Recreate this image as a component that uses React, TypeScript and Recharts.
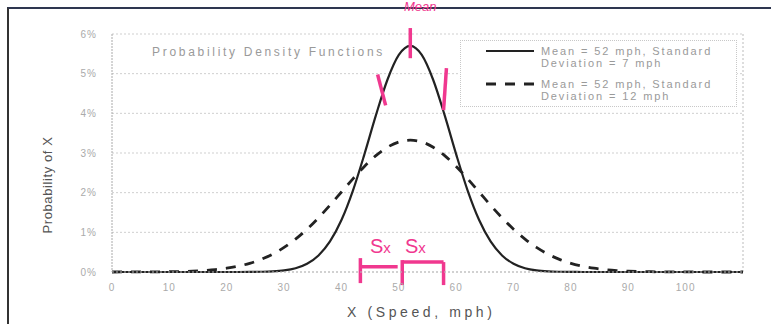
import React from 'react';
import { LineChart, Line, XAxis, YAxis, CartesianGrid, ReferenceLine, Legend } from 'recharts';

const speedMph = [0, 2, 4, 6, 8, 10, 12, 14, 16, 18, 20, 22, 24, 26, 28, 30, 32, 34, 36, 38, 40, 42, 44, 46, 48, 50, 52, 54, 56, 58, 60, 62, 64, 66, 68, 70, 72, 74, 76, 78, 80, 82, 84, 86, 88, 90, 92, 94, 96, 98, 100, 102, 104, 106, 108, 110];
const sd7Pct = [0, 0, 0, 0, 0, 0, 0, 0, 0, 0, 0, 0, 0.002, 0.006, 0.016, 0.041, 0.096, 0.209, 0.418, 0.771, 1.311, 2.054, 2.966, 3.947, 4.84, 5.471, 5.699, 5.471, 4.84, 3.947, 2.966, 2.054, 1.311, 0.771, 0.418, 0.209, 0.096, 0.041, 0.016, 0.006, 0.002, 0, 0, 0, 0, 0, 0, 0, 0, 0, 0, 0, 0, 0, 0, 0];
const sd12Pct = [0, 0.001, 0.001, 0.002, 0.004, 0.007, 0.013, 0.022, 0.037, 0.06, 0.095, 0.146, 0.218, 0.318, 0.45, 0.619, 0.829, 1.079, 1.367, 1.683, 2.016, 2.349, 2.662, 2.934, 3.145, 3.279, 3.324, 3.279, 3.145, 2.934, 2.662, 2.349, 2.016, 1.683, 1.367, 1.079, 0.829, 0.619, 0.45, 0.318, 0.218, 0.146, 0.095, 0.06, 0.037, 0.022, 0.013, 0.007, 0.004, 0.002, 0.001, 0.001, 0, 0, 0, 0];
const xTicks = [0, 10, 20, 30, 40, 50, 60, 70, 80, 90, 100];
const yTicks = [0, 1, 2, 3, 4, 5, 6];
const seriesNames = ['Mean = 52 mph, Standard Deviation = 7 mph', 'Mean = 52 mph, Standard Deviation = 12 mph'];
const chartTitle = 'Probability Density Functions';
const xTitle = 'X (Speed, mph)';
const yTitle = 'Probability of X';

const data = speedMph.map((x, i) => ({ x, sd7: sd7Pct[i], sd12: sd12Pct[i] }));

const FONT = '"Liberation Sans", Arial, sans-serif';
const PINK = '#f0388f';

const legendLines = [
  ['Mean = 52 mph, Standard', 'Deviation = 7 mph'],
  ['Mean = 52 mph, Standard', 'Deviation = 12 mph'],
];

const renderLegend = () => (
  <div style={{ position: 'relative', width: 277, height: 67, border: '1px dotted #c8c8c8', boxSizing: 'border-box', background: '#fff', fontFamily: FONT, fontSize: 11, color: '#9a9a9a', letterSpacing: 1.9, lineHeight: '12px' }}>
    <svg width={60} height={60} style={{ position: 'absolute', left: 20, top: 0 }}>
      <line x1={5} x2={53} y1={10} y2={10} stroke="#222" strokeWidth={2.2} />
      <line x1={5} x2={53} y1={43} y2={43} stroke="#222" strokeWidth={2.8} strokeDasharray="10 9" />
    </svg>
    <div style={{ position: 'absolute', left: 80, top: 4, whiteSpace: 'nowrap' }} title={seriesNames[0]}>
      {legendLines[0][0]}<br />{legendLines[0][1]}
    </div>
    <div style={{ position: 'absolute', left: 80, top: 37, whiteSpace: 'nowrap' }} title={seriesNames[1]}>
      {legendLines[1][0]}<br />{legendLines[1][1]}
    </div>
  </div>
);

const pinkSeg = (a: { x: number; y: number }, b: { x: number; y: number }, key: string) => (
  <ReferenceLine key={key} segment={[a, b]} stroke={PINK} strokeWidth={3.5} ifOverflow="visible" />
);

export default function App() {
  return (
    <div style={{ position: 'absolute', left: 0, top: 0, width: 771, height: 324, background: '#fff', overflow: 'hidden', fontFamily: FONT }}>
      <div style={{ position: 'absolute', left: 7, top: 7, width: 764, height: 317, borderTop: '2px solid #2e3650', borderLeft: '2px solid #333' }} />
      <LineChart width={771} height={324} data={data} margin={{ top: 34, right: 28, bottom: 22, left: 52 }} style={{ position: 'absolute', left: 0, top: 0 }}>
        <CartesianGrid vertical={false} stroke="#cfcfcf" strokeDasharray="2 2" />
        <XAxis dataKey="x" type="number" domain={[0, 110]} ticks={xTicks} height={30} tickSize={0} tickMargin={12}
          axisLine={{ stroke: '#bbb', strokeDasharray: '2 2' }} tick={{ fill: '#aaa', fontSize: 10, fontFamily: FONT, letterSpacing: 1 }} />
        <YAxis type="number" domain={[0, 6]} ticks={yTicks} width={60} tickSize={0} tickMargin={15}
          tickFormatter={(v: number) => `${v}%`} axisLine={{ stroke: '#aaa', strokeDasharray: '2 1' }}
          tick={{ fill: '#aaa', fontSize: 10, fontFamily: FONT, letterSpacing: 1 }} />
        <ReferenceLine x={110} stroke="#bbb" strokeDasharray="2 2" />
        <Legend layout="horizontal" verticalAlign="middle" align="center" content={renderLegend}
          wrapperStyle={{ position: 'absolute', left: 460, top: 40, width: 277, height: 67 }} />
        <Line type="monotone" dataKey="sd12" name={seriesNames[1]} stroke="#222" strokeWidth={2.8} strokeDasharray="10 9" dot={false} isAnimationActive={false} />
        <Line type="monotone" dataKey="sd7" name={seriesNames[0]} stroke="#222" strokeWidth={2.2} dot={false} isAnimationActive={false} />
        {pinkSeg({ x: 52, y: 6.15 }, { x: 52, y: 5.39 }, 'peak')}
        {pinkSeg({ x: 46.3, y: 4.98 }, { x: 47.7, y: 4.2 }, 'left')}
        {pinkSeg({ x: 58.3, y: 5.14 }, { x: 57.8, y: 4.08 }, 'right')}
        {pinkSeg({ x: 43.3, y: 0.35 }, { x: 43.3, y: -0.28 }, 'b1v')}
        {pinkSeg({ x: 43.3, y: 0.13 }, { x: 49.8, y: 0.13 }, 'b1h')}
        {pinkSeg({ x: 50.6, y: 0.3 }, { x: 50.6, y: -0.33 }, 'b2v1')}
        {pinkSeg({ x: 50.6, y: 0.25 }, { x: 57.8, y: 0.25 }, 'b2h')}
        {pinkSeg({ x: 57.8, y: 0.25 }, { x: 57.8, y: -0.33 }, 'b2v2')}
      </LineChart>
      <div style={{ position: 'absolute', left: 152, top: 45, fontSize: 12, color: '#9a9a9a', letterSpacing: 2.7, whiteSpace: 'nowrap' }}>{chartTitle}</div>
      <div style={{ position: 'absolute', left: 347, top: 304, fontSize: 14, color: '#555', letterSpacing: 3.6, whiteSpace: 'nowrap' }}>{xTitle}</div>
      <div style={{ position: 'absolute', left: 47, top: 185, transform: 'translate(-50%, -50%) rotate(-90deg)', fontSize: 13, color: '#555', letterSpacing: 0.6, whiteSpace: 'nowrap' }}>{yTitle}</div>
      <div style={{ position: 'absolute', left: 404, top: 0, fontSize: 13, lineHeight: '13px', color: PINK, fontStyle: 'italic', whiteSpace: 'nowrap' }}>Mean</div>
      <div style={{ position: 'absolute', left: 370, top: 235, fontSize: 20, color: PINK, whiteSpace: 'nowrap' }}>S<span style={{ fontSize: 15 }}>x</span></div>
      <div style={{ position: 'absolute', left: 405, top: 235, fontSize: 20, color: PINK, whiteSpace: 'nowrap' }}>S<span style={{ fontSize: 15 }}>x</span></div>
    </div>
  );
}
